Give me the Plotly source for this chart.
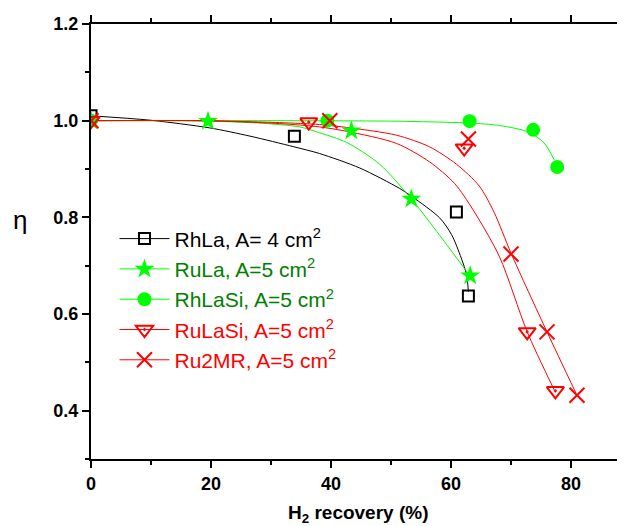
import plotly.graph_objects as go

# ---- marker data ----
rhla_x = [0, 33.9, 60.9, 62.9]
rhla_y = [1.01, 0.968, 0.811, 0.637]

rula_x = [0, 19.5, 43.4, 53.4, 63.2]
rula_y = [1.0, 0.999, 0.979, 0.838, 0.679]

rhlasi_x = [0, 39.4, 63.1, 73.7, 77.7]
rhlasi_y = [1.0, 1.0, 0.999, 0.981, 0.904]

rulasi_x = [0, 36.3, 62.2, 72.7, 77.4]
rulasi_y = [1.0, 0.997, 0.943, 0.563, 0.441]

ru2mr_x = [0, 39.8, 62.9, 70.0, 76.0, 81.0]
ru2mr_y = [1.0, 1.0, 0.962, 0.724, 0.563, 0.432]

# ---- fitted curves ----
rhla_fit_x = [0, 9.8, 19.8, 26.5, 33.8, 38.1, 44.8, 51.4, 53.6, 58.1, 60.1, 61.7, 62.6, 62.9]
rhla_fit_y = [1.010, 1.001, 0.985, 0.968, 0.946, 0.932, 0.902, 0.860, 0.842, 0.799, 0.764, 0.716, 0.681, 0.646]

rula_fit_x = [0, 9.8, 19.8, 28.1, 34.8, 38.1, 42.6, 48.1, 53.4, 58.1, 63.2]
rula_fit_y = [1.0, 1.0, 0.999, 0.995, 0.987, 0.975, 0.955, 0.910, 0.838, 0.763, 0.678]

rhlasi_fit_x = [0, 30, 50, 58.1, 63.1, 68.1, 73.0, 75.5, 77.2]
rhlasi_fit_y = [1.0, 1.0, 0.999, 0.997, 0.995, 0.990, 0.976, 0.954, 0.919]

rulasi_fit_x = [0, 18.1, 31.4, 38.1, 42.6, 50.9, 56.4, 60.6, 63.7, 68.1, 72.7, 77.2]
rulasi_fit_y = [1.0, 1.0, 0.994, 0.987, 0.978, 0.953, 0.915, 0.870, 0.815, 0.718, 0.563, 0.443]

ru2mr_fit_x = [0, 18.1, 31.4, 38.1, 42.6, 50.9, 56.4, 60.9, 64.7, 67.2, 70.0, 76.0, 80.8]
ru2mr_fit_y = [1.0, 1.0, 0.996, 0.992, 0.986, 0.970, 0.946, 0.910, 0.865, 0.810, 0.726, 0.563, 0.437]

x_ticks = [0, 20, 40, 60, 80]
y_ticks = [0.4, 0.6, 0.8, 1.0, 1.2]

LIME = "#00FF00"
RED = "#FF0000"
BLACK = "#000000"
DKGREEN = "#008000"

series = [
    dict(name="RhLa, A= 4 cm<sup>2</sup>", tcol=BLACK, col=BLACK, x=rhla_x, y=rhla_y,
         fx=rhla_fit_x, fy=rhla_fit_y,
         marker=dict(symbol="square-open", size=11, color=BLACK, line=dict(width=2, color=BLACK))),
    dict(name="RuLa, A=5 cm<sup>2</sup>", tcol=DKGREEN, col=LIME, x=rula_x, y=rula_y,
         fx=rula_fit_x, fy=rula_fit_y,
         marker=dict(symbol="star", size=15, color=LIME, line=dict(width=0))),
    dict(name="RhLaSi, A=5 cm<sup>2</sup>", tcol=DKGREEN, col=LIME, x=rhlasi_x, y=rhlasi_y,
         fx=rhlasi_fit_x, fy=rhlasi_fit_y,
         marker=dict(symbol="circle", size=14, color=LIME, line=dict(width=0))),
    dict(name="RuLaSi, A=5 cm<sup>2</sup>", tcol=RED, col=RED, x=rulasi_x, y=rulasi_y,
         fx=rulasi_fit_x, fy=rulasi_fit_y,
         marker=dict(symbol="triangle-down-open-dot", size=15, color=RED, line=dict(width=2, color=RED))),
    dict(name="Ru2MR, A=5 cm<sup>2</sup>", tcol=RED, col=RED, x=ru2mr_x, y=ru2mr_y,
         fx=ru2mr_fit_x, fy=ru2mr_fit_y,
         marker=dict(symbol="x-thin-open", size=15, color=RED, line=dict(width=2, color=RED))),
]

fig = go.Figure()

# fitted lines first
for s in series:
    fig.add_trace(go.Scatter(x=s["fx"], y=s["fy"], mode="lines",
                             line=dict(color=s["col"], width=1, shape="spline", smoothing=0.8),
                             showlegend=False, hoverinfo="skip"))
# markers on top
for s in series:
    fig.add_trace(go.Scatter(x=s["x"], y=s["y"], mode="markers", marker=s["marker"],
                             showlegend=False))
# legend entries
for i, s in enumerate(series):
    fig.add_trace(go.Scatter(x=[None], y=[None], mode="lines+markers",
                             name=f'<span style="color:{s["tcol"]}">{s["name"]}</span>',
                             line=dict(color=s["col"], width=1), marker=s["marker"],
                             legendgroup=f"g{i}", showlegend=True))

axis_common = dict(
    showline=True, linecolor="black", linewidth=2,
    ticks="outside", ticklen=7, tickwidth=2, tickcolor="black",
    showgrid=False, zeroline=False,
    tickfont=dict(family="Liberation Sans", size=18, color="black", weight="bold"),
    minor=dict(ticks="outside", ticklen=4, tickwidth=2, tickcolor="black", showgrid=False),
)

fig.update_xaxes(range=[0, 89], tickvals=x_ticks, mirror="ticks",
                 minor_dtick=10, **axis_common)
fig.update_yaxes(range=[0.3, 1.2], tickvals=y_ticks, tickformat=".1f",
                 minor_dtick=0.1, **axis_common)

fig.add_annotation(text="η", xref="paper", yref="paper", x=-0.133, y=0.549,
                   xanchor="center", yanchor="middle", showarrow=False,
                   font=dict(family="Liberation Sans", size=26, color="black"))
fig.add_annotation(text="H<sub>2</sub> recovery (%)", xref="paper", yref="paper",
                   x=0.5, y=-0.127, xanchor="center", yanchor="middle", showarrow=False,
                   font=dict(family="Liberation Sans", size=19, color="black", weight="bold"))

# page body has an 8px margin: figure is sized so that it fills the window
fig.update_layout(
    width=617, height=518,
    margin=dict(l=83, r=0, t=16, b=67),
    paper_bgcolor="white", plot_bgcolor="white",
    showlegend=True,
    legend=dict(x=0.044, y=0.553, xanchor="left", yanchor="top",
                bgcolor="rgba(0,0,0,0)", borderwidth=0,
                font=dict(family="Liberation Sans", size=21, color="black"),
                itemwidth=50, tracegroupgap=0),
)

fig.write_html("out.html")
